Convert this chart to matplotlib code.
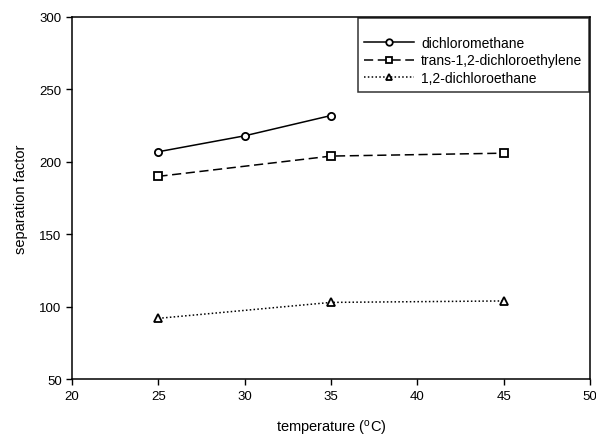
import matplotlib
matplotlib.use("Agg")
import matplotlib.pyplot as plt

plt.rcParams["font.family"] = ["Liberation Sans", "DejaVu Sans"]

# data
temp_dcm = [25, 30, 35]
sep_dcm = [207, 218, 232]

temp_tdce = [25, 35, 45]
sep_tdce = [190, 204, 206]

temp_dce = [25, 35, 45]
sep_dce = [92, 103, 104]

x_ticks = [20, 25, 30, 35, 40, 45, 50]
y_ticks = [50, 100, 150, 200, 250, 300]

fig = plt.figure(figsize=(5.96, 4.39), dpi=100)
ax = fig.add_axes([0.121, 0.134, 0.869, 0.825])

mk = dict(color="black", markerfacecolor="white", markeredgecolor="black",
          markeredgewidth=1.3, markersize=5.2, linewidth=1.1)

ax.plot(temp_dcm, sep_dcm, linestyle="-", marker="o",
        label="dichloromethane", **mk)
ax.plot(temp_tdce, sep_tdce, linestyle=(0, (6, 3)), marker="s",
        label="trans-1,2-dichloroethylene", **mk)
ax.plot(temp_dce, sep_dce, linestyle=(0, (1, 1.5)), marker="^",
        label="1,2-dichloroethane", **mk)

ax.set_xlim(20, 50)
ax.set_ylim(50, 300)
ax.set_xticks(x_ticks)
ax.set_yticks(y_ticks)
ax.tick_params(direction="out", length=4, width=1, labelsize=9.5, colors="black")

for s in ax.spines.values():
    s.set_linewidth(1.1)
    s.set_color("black")

ax.set_xlabel("temperature ($\\mathregular{^{o}}$C)", fontsize=10.5, labelpad=12)
ax.set_ylabel("separation factor", fontsize=10.5, labelpad=8)

# empty title gives the extra space above the first entry, as in the original
leg = ax.legend(loc="upper right", fontsize=10, frameon=True, fancybox=False,
                edgecolor="black", borderaxespad=0.1, handlelength=3.6,
                handletextpad=0.5, labelspacing=0.28, borderpad=0.45,
                title=" ", title_fontsize=6, markerscale=0.9)
leg.get_frame().set_linewidth(1.1)

fig.savefig("out.png", dpi=100)
